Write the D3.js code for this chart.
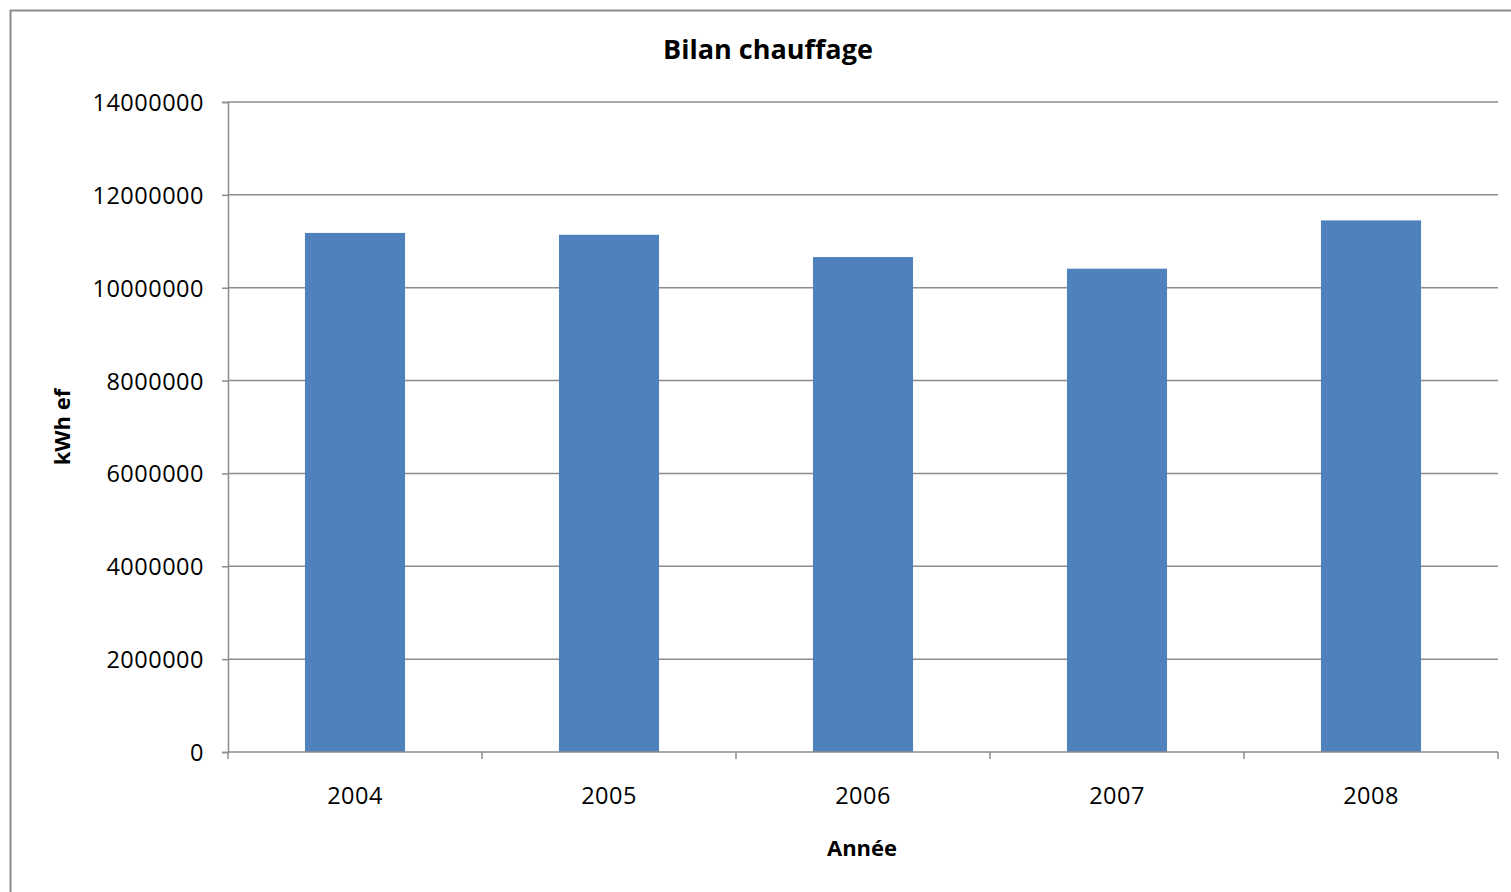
<!DOCTYPE html>
<html>
<head>
<meta charset="utf-8">
<script src="https://cdn.jsdelivr.net/npm/d3@7"></script>
<style>
  html, body { margin: 0; padding: 0; background: #fff; }
  svg { display: block; }
  text { font-family: "Open Sans", "Liberation Sans", sans-serif; fill: #000; }
</style>
</head>
<body>
<svg id="chart" width="1511" height="892"></svg>
<script>
// Heating consumption per year (kWh final energy)
const years = ["2004", "2005", "2006", "2007", "2008"];
const consumption = [11180000, 11140000, 10660000, 10410000, 11450000];
const yTicks = [0, 2000000, 4000000, 6000000, 8000000, 10000000, 12000000, 14000000];

const svg = d3.select("#chart");
const W = 1511, H = 892;
const plot = { left: 228, right: 1498, top: 102, bottom: 752 };
const gridColor = "#8c8c8c";
const barColor = "#4f81bd";

// outer chart frame
svg.append("rect")
  .attr("x", 10.5).attr("y", 10.5)
  .attr("width", W + 20).attr("height", H + 20)
  .attr("fill", "#fff").attr("stroke", "#8c8c8c").attr("stroke-width", 2);

const x = d3.scaleBand().domain(years).range([plot.left, plot.right])
  .paddingInner(0.606).paddingOuter(0.303);
const y = d3.scaleLinear().domain([0, 14000000]).range([plot.bottom, plot.top]);

// horizontal gridlines
svg.append("g").selectAll("line").data(yTicks.filter(d => d > 0)).join("line")
  .attr("x1", plot.left).attr("x2", plot.right)
  .attr("y1", d => y(d)).attr("y2", d => y(d))
  .attr("stroke", gridColor).attr("stroke-width", 1.5);

// bars
svg.append("g").selectAll("rect").data(years).join("rect")
  .attr("x", d => x(d))
  .attr("width", x.bandwidth())
  .attr("y", (d, i) => y(consumption[i]))
  .attr("height", (d, i) => y(0) - y(consumption[i]))
  .attr("fill", barColor);

// y axis
const yAxis = svg.append("g").attr("transform", `translate(${plot.left},0)`)
  .call(d3.axisLeft(y).tickValues(yTicks).tickFormat(d3.format("d")).tickSize(6).tickPadding(18));
yAxis.select(".domain").attr("stroke", gridColor).attr("stroke-width", 1.5);
yAxis.selectAll(".tick line").attr("stroke", gridColor).attr("stroke-width", 1.5);
yAxis.selectAll(".tick text").style("font-size", "23.5px").style("letter-spacing", "0.5px")
  .attr("fill", "#000").attr("dy", "0.36em");

// x axis: boundary ticks between categories
const xAxisG = svg.append("g").attr("transform", `translate(0,${plot.bottom})`);
xAxisG.append("line").attr("x1", plot.left).attr("x2", plot.right)
  .attr("stroke", gridColor).attr("stroke-width", 1.5);
const step = x.step();
const bounds = d3.range(years.length + 1).map(i => plot.left + i * step);
xAxisG.selectAll("line.tk").data(bounds).join("line").attr("class", "tk")
  .attr("x1", d => d).attr("x2", d => d).attr("y1", 0).attr("y2", 7)
  .attr("stroke", gridColor).attr("stroke-width", 1.5);
xAxisG.selectAll("text").data(years).join("text")
  .attr("x", d => x(d) + x.bandwidth() / 2).attr("y", 52)
  .attr("text-anchor", "middle").style("font-size", "23.5px").style("letter-spacing", "0.5px")
  .text(d => d);

// titles
svg.append("text").attr("x", 768).attr("y", 59).attr("text-anchor", "middle")
  .style("font-size", "27px").style("font-weight", "bold").text("Bilan chauffage");
svg.append("text").attr("x", 862).attr("y", 856).attr("text-anchor", "middle")
  .style("font-size", "22px").style("font-weight", "bold").text("Année");
svg.append("text").attr("transform", "translate(70,427) rotate(-90)").attr("text-anchor", "middle")
  .style("font-size", "22px").style("font-weight", "bold").text("kWh ef");
</script>
</body>
</html>
